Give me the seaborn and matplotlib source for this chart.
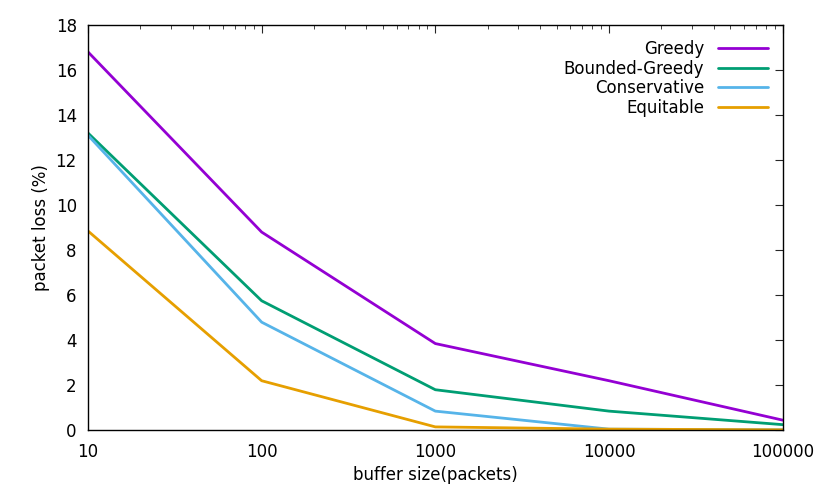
import pandas as pd
import numpy as np
import seaborn as sns
from matplotlib import pyplot as plt
from matplotlib.ticker import FixedLocator, FixedFormatter, LogLocator, NullFormatter

buffer_sizes = [10, 100, 1000, 10000, 100000]
greedy = [16.8, 8.8, 3.85, 2.2, 0.45]
bounded_greedy = [13.2, 5.75, 1.8, 0.85, 0.25]
conservative = [13.1, 4.8, 0.85, 0.05, 0.02]
equitable = [8.85, 2.2, 0.15, 0.05, 0.02]
series_names = ["Greedy", "Bounded-Greedy", "Conservative", "Equitable"]
colors = ["#9400d3", "#009e73", "#56b4e9", "#e69f00"]

df = pd.DataFrame({
    "buffer": buffer_sizes * 4,
    "loss": greedy + bounded_greedy + conservative + equitable,
    "policy": sum([[n] * len(buffer_sizes) for n in series_names], []),
})

sns.set_style("white")
fig, ax = plt.subplots(figsize=(8.3, 4.98), dpi=100)
sns.lineplot(data=df, x="buffer", y="loss", hue="policy", hue_order=series_names,
             palette=colors, linewidth=2, ax=ax)
ax.set_xscale("log")
ax.set_xlim(10, 100000)
ax.set_ylim(0, 18)
ax.set_yticks(np.arange(0, 19, 2))
ax.xaxis.set_major_locator(FixedLocator(buffer_sizes))
ax.xaxis.set_major_formatter(FixedFormatter([str(b) for b in buffer_sizes]))
ax.xaxis.set_minor_locator(LogLocator(base=10, subs=np.arange(2, 10)))
ax.xaxis.set_minor_formatter(NullFormatter())
ax.tick_params(which="both", direction="in", top=True, right=True, labelsize=12,
               labelcolor="black")
ax.tick_params(axis="x", which="major", pad=9)
ax.tick_params(axis="y", which="major", pad=8)
ax.tick_params(which="major", length=6)
ax.tick_params(which="minor", length=3)
for s in ax.spines.values():
    s.set_color("black")
    s.set_linewidth(1)
ax.set_xlabel("buffer size(packets)", fontsize=12, color="black")
ax.set_ylabel("packet loss (%)", fontsize=12, color="black")
leg = ax.legend(loc="upper right", frameon=False, markerfirst=False, fontsize=12,
                handlelength=3, labelspacing=0.1)
for t in leg.get_texts():
    t.set_color("black")
fig.subplots_adjust(left=0.106, right=0.943, top=0.95, bottom=0.136)
fig.savefig("out.png", dpi=100)
